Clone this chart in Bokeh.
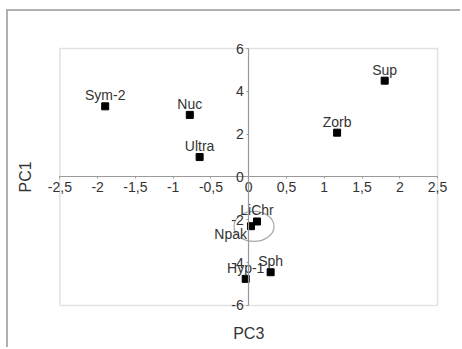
from bokeh.plotting import figure
from bokeh.models import FixedTicker, ColumnDataSource, Range1d
from bokeh.embed import file_html
from bokeh.resources import INLINE
from bokeh.core.properties import value

# ---- data ----
names = ["Sym-2", "Nuc", "Ultra", "Sup", "Zorb", "LiChr", "Npak", "Sph", "Hyp-1"]
pc3 = [-1.90, -0.78, -0.65, 1.80, 1.17, 0.11, 0.03, 0.29, -0.04]
pc1 = [3.30, 2.90, 0.93, 4.50, 2.07, -2.08, -2.30, -4.45, -4.76]
x_ticks = [-2.5, -2, -1.5, -1, -0.5, 0, 0.5, 1, 1.5, 2, 2.5]
x_tick_labels = ["-2,5", "-2", "-1,5", "-1", "-0,5", "0", "0,5", "1", "1,5", "2", "2,5"]
y_ticks = [-6, -4, -2, 0, 2, 4, 6]
y_tick_labels = ["-6", "-4", "-2", "0", "2", "4", "6"]
x_title = "PC3"
y_title = "PC1"
x_lim = (-2.5, 2.5)
y_lim = (-6, 6)
ellipse_x, ellipse_y = 0.07, -2.31
ellipse_w, ellipse_h = 0.53, 1.40

# ---- label styles ----
label_align = ["center"] * 6 + ["right"] + ["center"] * 2
label_dx = [0] * 6 + [-4] + [0] * 2
label_dy = [-11] * 6 + [8] + [-11] * 2

FONT = "Liberation Sans"
TXT = "#333333"

src = ColumnDataSource(dict(x=pc3, y=pc1, name=names, align=label_align,
                            dx=label_dx, dy=label_dy))

p = figure(width=454, height=338, output_backend="svg", toolbar_location=None,
           x_range=Range1d(-3.18, 2.83), y_range=Range1d(-8.06, 7.73),
           min_border_left=0, min_border_right=0, min_border_top=0,
           min_border_bottom=0)
p.margin = (9, 0, 0, 6)
p.styles = {"border-top": "2px solid #b0b0b0", "border-left": "2px solid #b0b0b0"}

p.grid.visible = False
p.outline_line_color = None

# plot box
p.quad(left=x_lim[0], right=x_lim[1], bottom=y_lim[0], top=y_lim[1],
       fill_color=None, line_color="#e2e2e2", line_width=1.5)

for ax in (p.xaxis[0], p.yaxis[0]):
    ax.fixed_location = 0
    ax.axis_line_color = "#9a9a9a"
    ax.axis_line_width = 1.2
    ax.major_tick_line_color = "#9a9a9a"
    ax.major_tick_out = 2
    ax.major_tick_in = 0
    ax.minor_tick_line_color = None
    ax.major_label_text_font = FONT
    ax.major_label_text_font_size = "14px"
    ax.major_label_text_color = TXT

p.xaxis.ticker = FixedTicker(ticks=x_ticks)
p.xaxis.major_label_overrides = {t: s for t, s in zip(x_ticks, x_tick_labels)}
p.xaxis.major_label_standoff = 3
p.xaxis.bounds = x_lim
p.yaxis.ticker = FixedTicker(ticks=y_ticks)
p.yaxis.major_label_overrides = {t: s for t, s in zip(y_ticks, y_tick_labels)}
p.yaxis.major_label_standoff = 3
p.yaxis.bounds = y_lim

p.ellipse(x=ellipse_x, y=ellipse_y, width=ellipse_w, height=ellipse_h,
          fill_color=None, line_color="#a8a8a8", line_width=1.2)

p.scatter("x", "y", source=src, marker="square", size=7, color="black")
p.text("x", "y", text="name", source=src, text_align="align",
       x_offset="dx", y_offset="dy", text_baseline="alphabetic",
       text_font=value(FONT), text_font_size="14px", text_color=TXT)

# axis titles (placed outside the plot box, in data space)
p.text(x=[(x_lim[0] + x_lim[1]) / 2], y=[y_lim[0] - 1.31], text=[x_title],
       text_align="center", text_baseline="middle",
       text_font=value(FONT), text_font_size="16px", text_color=TXT)
p.text(x=[x_lim[0] - 0.45], y=[(y_lim[0] + y_lim[1]) / 2], text=[y_title],
       angle=90, angle_units="deg", text_align="center", text_baseline="middle",
       text_font=value(FONT), text_font_size="16px", text_color=TXT)

open("out.html", "w").write(file_html(p, INLINE))
